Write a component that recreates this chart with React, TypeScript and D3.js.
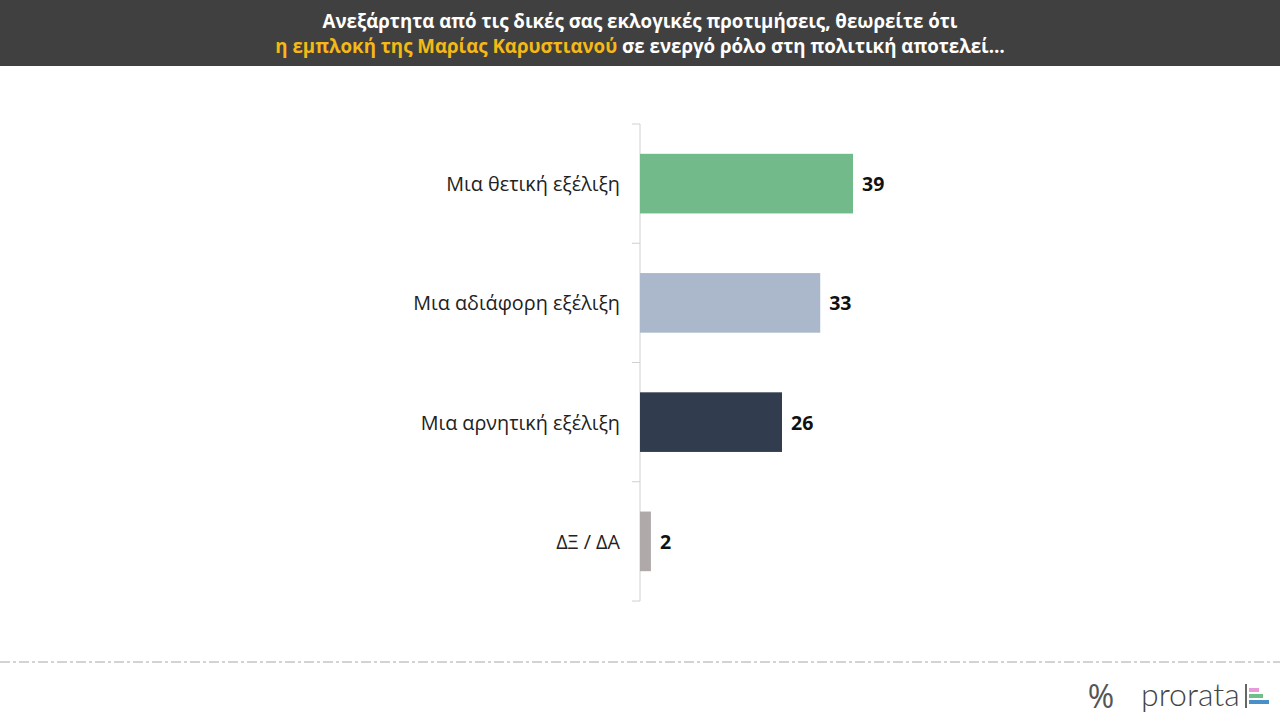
import React from "react";
import * as d3 from "d3";

const categories = ["Μια θετική εξέλιξη", "Μια αδιάφορη εξέλιξη", "Μια αρνητική εξέλιξη", "ΔΞ / ΔΑ"];
const values = [39, 33, 26, 2];
const colors = ["#73BA8A", "#ABB8CB", "#323C4F", "#AFA9A9"];

const W = 1280;
const H = 720;
const FONT = "'Open Sans', 'DejaVu Sans', sans-serif";

export default function App() {
  const y = d3.scaleBand<string>().domain(categories).range([124, 601]).paddingInner(0.5).paddingOuter(0.25);
  const x = d3.scaleLinear().domain([0, 39]).range([640, 853]);
  const tickYs = d3.range(categories.length + 1).map((i) => 124 + (i * (601 - 124)) / categories.length);

  return (
    <svg width={W} height={H} style={{ position: "fixed", left: 0, top: 0, background: "#fff" }} fontFamily={FONT}>
      <rect x={0} y={0} width={W} height={66} fill="#404040" />
      <text x={640} y={28} textAnchor="middle" fill="#fff" fontSize={18.7} fontWeight={700}>
        Ανεξάρτητα από τις δικές σας εκλογικές προτιμήσεις, θεωρείτε ότι
      </text>
      <text x={640} y={53} textAnchor="middle" fill="#fff" fontSize={18.7} fontWeight={700}>
        <tspan fill="#F5B915">η εμπλοκή της Μαρίας Καρυστιανού</tspan>
        <tspan> σε ενεργό ρόλο στη πολιτική αποτελεί…</tspan>
      </text>

      <line x1={640} x2={640} y1={124} y2={601} stroke="#d0d0d0" strokeWidth={1} />
      {tickYs.map((t, i) => (
        <line key={i} x1={632} x2={640} y1={t} y2={t} stroke="#d0d0d0" strokeWidth={1} />
      ))}

      {categories.map((c, i) => {
        const by = y(c)!;
        const bh = y.bandwidth();
        return (
          <g key={c}>
            <rect x={x(0)} y={by} width={x(values[i]) - x(0)} height={bh} fill={colors[i]} />
            <text x={620} y={by + bh / 2} textAnchor="end" dominantBaseline="central" fontSize={19.8} fill="#222">
              {c}
            </text>
            <text x={x(values[i]) + 9} y={by + bh / 2} dominantBaseline="central" fontSize={19.5} fontWeight={700} fill="#111">
              {values[i]}
            </text>
          </g>
        );
      })}

      <line x1={0} x2={W} y1={662} y2={662} stroke="#a8a8a8" strokeWidth={1.2} strokeDasharray="10,3,3,3" />

      <text x={1101} y={708} textAnchor="middle" fontSize={32} fontWeight={400} fill="#555">%</text>
      <text x={1141} y={706} fontSize={32} fontWeight={300} fill="#444" fontFamily="Lato, 'Open Sans', sans-serif">prorata</text>
      <line x1={1246} x2={1246} y1={684} y2={708} stroke="#333" strokeWidth={1.5} />
      <rect x={1249} y={688} width={10} height={4} fill="#E89AD8" />
      <rect x={1249} y={694} width={14} height={4} fill="#6FBF8A" />
      <rect x={1249} y={700} width={20} height={4} fill="#4A90C8" />
    </svg>
  );
}
